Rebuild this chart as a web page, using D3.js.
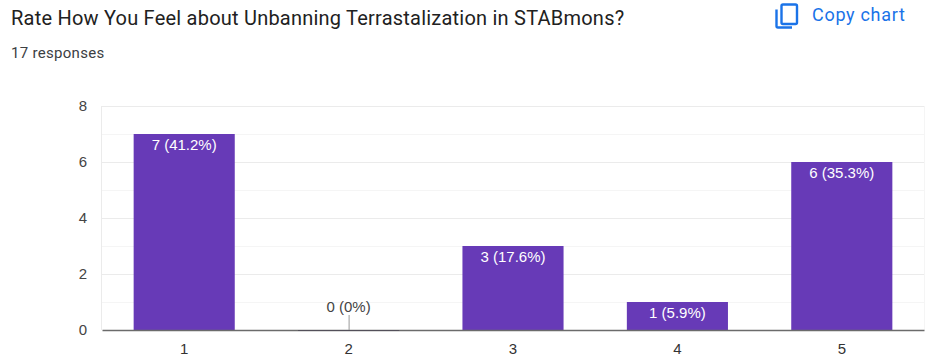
<!DOCTYPE html>
<html>
<head>
<meta charset="utf-8">
<script src="https://cdn.jsdelivr.net/npm/d3@7"></script>
<style>
  html, body { margin: 0; padding: 0; background: #fff; }
  svg { display: block; }
  text { font-family: Roboto, sans-serif; }
  .tick text { font-family: "Liberation Sans", Arial, sans-serif; }
</style>
</head>
<body>
<script>
// Chart data
const categories = ["1", "2", "3", "4", "5"];
const counts = [7, 0, 3, 1, 6];
const barLabels = ["7 (41.2%)", "0 (0%)", "3 (17.6%)", "1 (5.9%)", "6 (35.3%)"];
const majorTicks = [0, 2, 4, 6, 8];
const minorTicks = [1, 3, 5, 7];

const titleText = "Rate How You Feel about Unbanning Terrastalization in STABmons?";
const subtitleText = "17 responses";
const copyText = "Copy chart";

// SVG dimensions
const outerWidth = 931, outerHeight = 362;
const plot = { left: 102, right: 924, top: 106, bottom: 330 };

const svg = d3.select("body")
    .append("svg")
    .attr("width", outerWidth)
    .attr("height", outerHeight);

// Header
svg.append("text")
    .attr("x", 11).attr("y", 25)
    .attr("font-size", 20)
    .attr("letter-spacing", 0.22)
    .attr("fill", "#212121")
    .text(titleText);

svg.append("text")
    .attr("x", 11).attr("y", 58)
    .attr("font-size", 15)
    .attr("letter-spacing", 0.3)
    .attr("fill", "#3c4043")
    .text(subtitleText);

// Copy chart button
const copyIcon = svg.append("g")
    .attr("transform", "translate(775, 3)")
    .attr("fill", "none")
    .attr("stroke", "#1a73e8")
    .attr("stroke-width", 2.4);
copyIcon.append("rect")
    .attr("x", 6.5).attr("y", 1.5)
    .attr("width", 15.5).attr("height", 19.5)
    .attr("rx", 1.5);
copyIcon.append("path")
    .attr("d", "M1.5 6.5 V23 Q1.5 24.5 3 24.5 H17");

svg.append("text")
    .attr("x", 812).attr("y", 21)
    .attr("font-size", 18)
    .attr("letter-spacing", 0.7)
    .attr("fill", "#1a73e8")
    .text(copyText);

// Scales
const x = d3.scaleBand()
    .domain(categories)
    .range([plot.left, plot.right])
    .paddingInner(0.385)
    .paddingOuter(0.1925);
const y = d3.scaleLinear()
    .domain([0, 8])
    .range([plot.bottom, plot.top]);

// Gridlines
svg.append("g").selectAll("line")
    .data(minorTicks)
    .enter().append("line")
    .attr("x1", plot.left).attr("x2", plot.right)
    .attr("y1", d => y(d) + 0.5).attr("y2", d => y(d) + 0.5)
    .attr("stroke", "#f5f5f5");
svg.append("g").selectAll("line")
    .data(majorTicks.filter(d => d > 0))
    .enter().append("line")
    .attr("x1", plot.left).attr("x2", plot.right)
    .attr("y1", d => y(d) + 0.5).attr("y2", d => y(d) + 0.5)
    .attr("stroke", "#ebebeb");
svg.append("line")
    .attr("x1", plot.left - 0.5).attr("x2", plot.left - 0.5)
    .attr("y1", plot.top).attr("y2", plot.bottom)
    .attr("stroke", "#ebebeb");
svg.append("line")
    .attr("x1", plot.right + 0.5).attr("x2", plot.right + 0.5)
    .attr("y1", plot.top).attr("y2", plot.bottom)
    .attr("stroke", "#f5f5f5");

// Axes
const yAxis = svg.append("g")
    .attr("transform", `translate(${plot.left}, 0)`)
    .call(d3.axisLeft(y).tickValues(majorTicks).tickSize(0).tickPadding(15));
yAxis.select(".domain").remove();
yAxis.selectAll("text")
    .attr("font-size", 15)
    .attr("fill", "#444");

// Bars
svg.append("g").selectAll("rect")
    .data(counts)
    .enter().append("rect")
    .attr("x", (d, i) => x(categories[i]))
    .attr("y", d => y(d))
    .attr("width", x.bandwidth())
    .attr("height", d => y(0) - y(d))
    .attr("fill", "#673ab7");

const xAxis = svg.append("g")
    .attr("transform", `translate(0, ${plot.bottom})`)
    .call(d3.axisBottom(x).tickSize(0).tickPadding(13));
xAxis.select(".domain")
    .attr("stroke", "#6b6b6b")
    .attr("stroke-width", 1.5);
xAxis.selectAll("text")
    .attr("font-size", 15)
    .attr("fill", "#333");

// Zero height bars still leave a dark strip on the baseline
svg.append("g").selectAll("line")
    .data(categories.filter((c, i) => counts[i] === 0))
    .enter().append("line")
    .attr("x1", d => x(d))
    .attr("x2", d => x(d) + x.bandwidth())
    .attr("y1", y(0) + 0.5).attr("y2", y(0) + 0.5)
    .attr("stroke", "#53505a")
    .attr("stroke-width", 1);

// Leader line for the empty bar
svg.append("g").selectAll("line")
    .data(categories.filter((c, i) => counts[i] === 0))
    .enter().append("line")
    .attr("x1", d => x(d) + x.bandwidth() / 2 + 0.5)
    .attr("x2", d => x(d) + x.bandwidth() / 2 + 0.5)
    .attr("y1", y(0) - 15).attr("y2", y(0))
    .attr("stroke", "#999");

// Bar labels
svg.append("g").selectAll("text")
    .data(counts)
    .enter().append("text")
    .attr("x", (d, i) => x(categories[i]) + x.bandwidth() / 2)
    .attr("y", d => d === 0 ? y(0) - 18 : y(d) + 16)
    .attr("text-anchor", "middle")
    .attr("font-size", 15)
    .style("font-family", '"Liberation Sans", Arial, sans-serif')
    .attr("fill", d => d === 0 ? "#444" : "#fff")
    .text((d, i) => barLabels[i]);
</script>
</body>
</html>
